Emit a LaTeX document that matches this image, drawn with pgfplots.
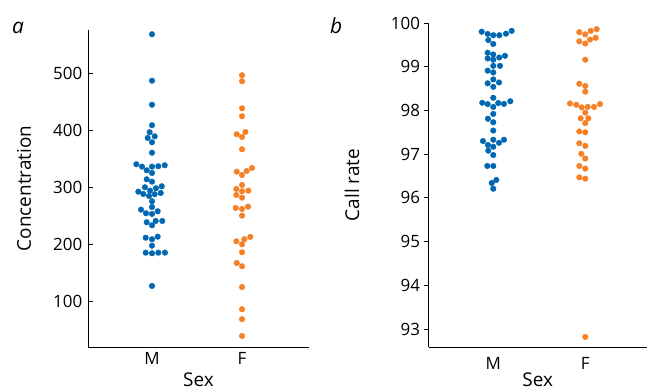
\documentclass[border=0pt]{standalone}
\usepackage{fontspec}
\setmainfont{Open Sans}
\usepackage{pgfplots}
\pgfplotsset{compat=1.18}
\definecolor{mblue}{RGB}{0,103,178}
\definecolor{forange}{RGB}{245,128,37}
\begin{document}
\begin{tikzpicture}[x=1bp,y=1bp]
\useasboundingbox (0,0) rectangle (647,390);
\pgfplotsset{
 common/.style={
  scale only axis,
  axis x line*=bottom, axis y line*=left,
  axis line style={black, line width=0.8bp, -},
  xtick={0,1}, xticklabels={M,F},
  x tick style={draw=none},
  y tick style={black, line width=0.8bp},
  major tick length=5bp,
  tick label style={font=\fontsize{17}{20}\selectfont},
  xticklabel style={yshift=-2.3bp},
  label style={font=\fontsize{19}{22}\selectfont},
  /pgf/number format/assume math mode=true,
  xlabel={Sex},
  xlabel style={at={(axis description cs:0.5,0)}, anchor=base, yshift=-39.5bp},
  clip=false,
 },
 dots/.style={only marks, mark=*, mark size=2.8bp, mark options={draw=none, fill=#1}, color=#1},
}
\begin{axis}[common, at={(88bp,43bp)}, anchor=south west,
  width=221bp, height=317bp,
  xmin=-0.711, xmax=1.744, ymin=19.2, ymax=576,
  ytick={100,200,300,400,500}, tick align=inside,
  yticklabel style={xshift=-2.3bp},
  ylabel={Concentration},
  ylabel style={at={(axis description cs:-0.258,0.5)}, anchor=base, rotate=0},
  ]
\addplot[dots=mblue] coordinates {
(0,568.5) (0,487) (0,444.8) (0,408.7) (-0.026,396.4) (-0.048,386.4) (0.030,389.3) (0,378.8) (0,360.5)
(-0.174,340.2) (-0.111,336) (0,336) (0.070,336.7) (0.141,338.4)
(-0.059,329.6) (0,324.9) (-0.059,313.8) (0,309.6)
(-0.078,299.8) (0.044,298) (0.108,301.5)
(-0.152,292) (-0.097,288) (-0.022,293.8) (0.097,289.7) (-0.033,284.5) (0.030,287.5)
(0,275.2) (0,265.1)
(-0.122,260.4) (-0.067,254.1) (0,252.9) (0.063,257.6)
(-0.059,238.3) (0,233) (0.041,240.6) (0.114,240.6)
(-0.070,211.2) (0,208.4) (0.063,213) (0,197.2)
(-0.070,184.9) (0,183.8) (0.070,184.9) (0.144,184.9)
(0,126.4)
};
\addplot[dots=forange] coordinates {
(1,496.5) (1,486) (1,438.5) (1,424.5)
(0.941,392.9) (1.037,396.9) (1,388.1) (1,366.5)
(0.941,327.2) (1,321.4) (1.052,328.4) (1.111,333.7)
(1,303.8) (0.937,296.8) (1,292.7) (1.070,293.8) (0.937,286.2) (1,281.5)
(0.930,263.4) (1,261.6) (1.067,265.7) (1,249.9)
(0.937,204.9) (1,199.6) (1.026,208.4) (1.092,212.5) (1,185.6)
(0.941,166.8) (1,161) (1,124.6) (1,85.5) (1,68.1) (1,38.6)
};
\end{axis}
\begin{axis}[common, at={(428.5bp,43bp)}, anchor=south west,
  width=218.5bp, height=324bp,
  xmin=-0.704, xmax=1.671, ymin=92.59, ymax=100,
  ytick={93,94,95,96,97,98,99,100}, tick align=outside,
  ylabel={Call rate},
  ylabel style={at={(axis description cs:-0.317,0.5)}, anchor=base, rotate=0},
  ]
\addplot[dots=mblue] coordinates {
(-0.126,99.80) (-0.061,99.75) (0,99.72) (0.065,99.72) (0.138,99.755) (0.200,99.82)
(-0.054,99.61) (0,99.52)
(-0.061,99.32) (0,99.28) (-0.061,99.19) (0,99.16) (0.065,99.21) (0.127,99.25)
(0,99.02) (0.073,99.02)
(-0.061,98.91) (0,98.87)
(0,98.71) (-0.061,98.62) (0.062,98.64) (0,98.54)
(0,98.29) (-0.120,98.175) (-0.061,98.145) (0,98.08) (0.054,98.17) (0.116,98.15) (0.185,98.21)
(0,97.92) (-0.058,97.81) (0,97.73) (0,97.54)
(-0.112,97.30) (0,97.33) (-0.058,97.21) (0,97.17) (0.062,97.26) (0.116,97.33) (-0.054,97.08) (0,96.98)
(-0.065,96.73) (0,96.73)
(-0.017,96.34) (0.033,96.41) (0,96.21)
};
\addplot[dots=forange] coordinates {
(0.935,99.79) (1,99.74) (1.059,99.82) (1.124,99.86)
(0.935,99.58) (1,99.53) (1.051,99.62) (1.113,99.66)
(1,99.16)
(0.935,98.61) (1,98.56) (1,98.43)
(0.834,98.16) (0.902,98.13) (0.961,98.07) (1.026,98.08) (1.095,98.08) (1.160,98.145) (1,97.95)
(0.950,97.82) (1.033,97.82) (1,97.71)
(0.935,97.52) (1,97.50)
(0.935,97.25) (1,97.19)
(0.957,97.01) (1,96.90)
(0.935,96.73) (1,96.67)
(0.935,96.47) (1,96.44)
(1,92.82)
};
\end{axis}
\node[anchor=base west, font=\fontsize{21}{24}\selectfont\itshape, inner sep=0] at (12,357) {a};
\node[anchor=base west, font=\fontsize{21}{24}\selectfont\itshape, inner sep=0] at (330,357) {b};
\end{tikzpicture}
\end{document}
